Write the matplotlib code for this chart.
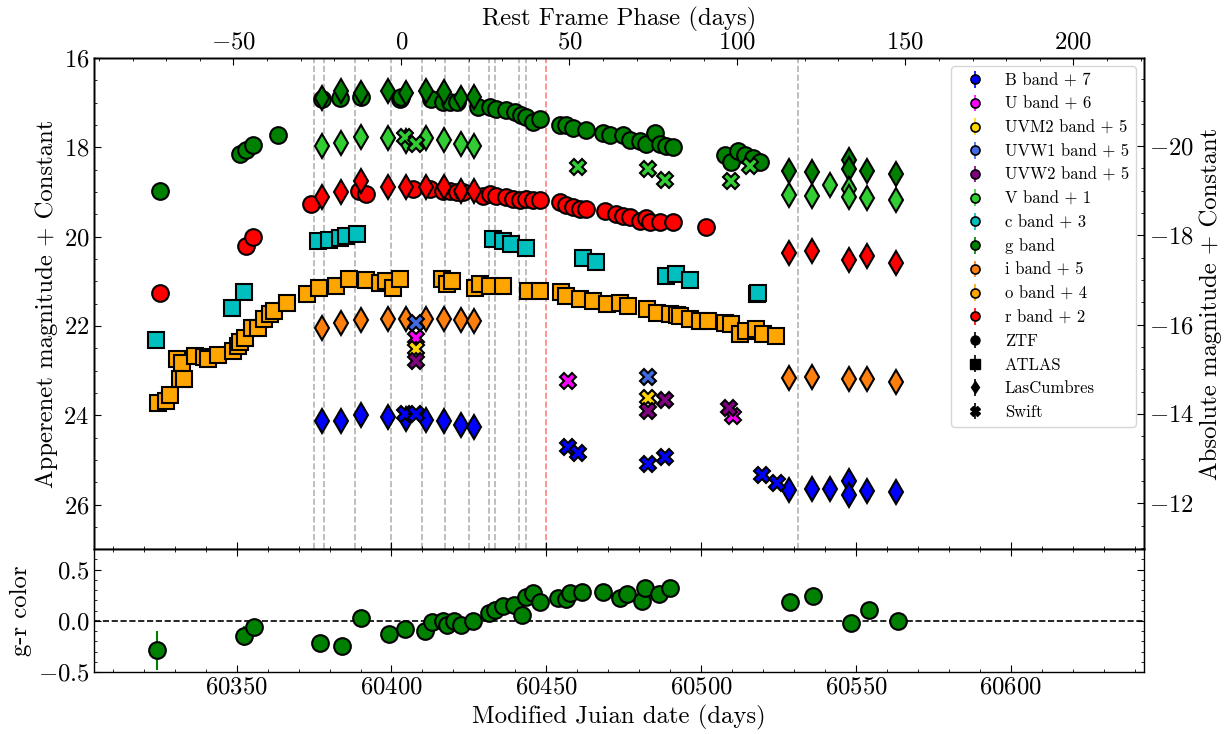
"""Multi-band light curve with g-r colour panel."""
import numpy as np
import matplotlib
matplotlib.use("Agg")
import matplotlib.pyplot as plt
from matplotlib.ticker import AutoMinorLocator, MultipleLocator

# ---------------------------------------------------------------- data
XLIM = (60304.0, 60643.0)
T0 = 60403.2          # phase zero (MJD)
Z = 0.085             # redshift used for rest-frame phase
DIST_MOD = 37.97      # apparent -> absolute

OFFSETS = {"B": 7, "U": 6, "UVM2": 5, "UVW1": 5, "UVW2": 5, "V": 1,
           "c": 3, "g": 0, "i": 5, "o": 4, "r": 2}
COLORS = {"B": "blue", "U": "magenta", "UVM2": "gold", "UVW1": "royalblue",
          "UVW2": "purple", "V": "limegreen", "c": "c", "g": "green",
          "i": "tab:orange", "o": "orange", "r": "red"}

# ZTF
ztf_g_mjd = [60325.2, 60351.0, 60353.1, 60355.3, 60363.4, 60377.5, 60383.3, 60390.3,
             60402.6, 60403.2, 60412.9, 60416.6, 60418.8, 60421.0, 60427.9, 60431.7,
             60433.9, 60437.1, 60439.8, 60441.9, 60443.6, 60445.7, 60447.9, 60454.3,
             60456.5, 60458.6, 60462.9, 60468.3, 60470.5, 60474.8, 60476.9, 60480.1,
             60482.3, 60485.0, 60486.6, 60488.8, 60490.9, 60507.6, 60509.7, 60511.9,
             60514.1, 60516.7, 60518.9]
ztf_g_mag = [18.97, 18.16, 18.07, 17.94, 17.73, 16.92, 16.89, 16.87,
             16.91, 16.87, 16.91, 16.98, 16.98, 16.98, 17.09, 17.09,
             17.15, 17.17, 17.22, 17.27, 17.32, 17.43, 17.36, 17.49,
             17.51, 17.57, 17.62, 17.67, 17.73, 17.73, 17.84, 17.87,
             17.92, 17.69, 17.92, 17.96, 17.99, 18.18, 18.34, 18.09,
             18.18, 18.25, 18.33]
ztf_r_mjd = [60325.2, 60353.1, 60355.3, 60374.1, 60389.5, 60391.9, 60406.9, 60412.3,
             60416.6, 60418.8, 60421.0, 60423.1, 60429.5, 60431.7, 60433.9, 60437.1,
             60439.2, 60441.4, 60443.6, 60445.7, 60447.9, 60454.3, 60456.5, 60458.6,
             60460.8, 60462.9, 60468.8, 60472.6, 60474.8, 60476.9, 60480.1, 60482.3,
             60483.4, 60486.6, 60490.9, 60501.7]
ztf_r_mag = [19.27, 18.22, 18.02, 17.27, 16.97, 17.04, 16.93, 16.93,
             16.97, 16.97, 17.00, 17.00, 17.08, 17.04, 17.08, 17.12,
             17.15, 17.19, 17.15, 17.19, 17.19, 17.23, 17.29, 17.34,
             17.38, 17.38, 17.42, 17.49, 17.53, 17.57, 17.64, 17.59,
             17.68, 17.68, 17.68, 17.79]

# ATLAS
atlas_c_mjd = [60324.1, 60348.5, 60352.3, 60376.3, 60379.8, 60383.3, 60385.4, 60388.7,
               60432.8, 60436.0, 60438.7, 60443.6, 60461.8, 60466.2, 60488.8, 60492.0,
               60496.3, 60518.0, 60518.3]
atlas_c_mag = [19.31, 18.60, 18.25, 17.10, 17.07, 17.03, 16.98, 16.94,
               17.05, 17.09, 17.16, 17.26, 17.49, 17.56, 17.88, 17.84,
               17.97, 18.29, 18.27]
atlas_o_mjd = [60324.6, 60327.3, 60328.4, 60330.7, 60331.6, 60332.2, 60333.0, 60336.4,
               60339.6, 60340.7, 60343.9, 60348.8, 60350.4, 60351.0, 60352.6, 60354.8,
               60356.9, 60358.7, 60360.9, 60361.9, 60366.3, 60372.8, 60376.6, 60382.0,
               60386.3, 60391.7, 60396.2, 60398.2, 60400.5, 60402.7, 60416.2, 60417.8,
               60419.4, 60427.0, 60428.6, 60431.8, 60436.1, 60444.1, 60447.9, 60454.9,
               60456.5, 60460.8, 60465.1, 60469.5, 60473.8, 60476.5, 60482.4, 60485.6,
               60489.9, 60492.1, 60493.1, 60496.3, 60499.5, 60502.2, 60507.6, 60509.7,
               60512.4, 60514.6, 60517.8, 60520.0, 60524.3]
atlas_o_mag = [19.72, 19.69, 19.54, 18.75, 19.20, 18.82, 19.18, 18.67,
               18.70, 18.73, 18.65, 18.56, 18.45, 18.37, 18.26, 18.04,
               18.04, 17.85, 17.74, 17.66, 17.48, 17.29, 17.15, 17.10,
               16.95, 16.97, 17.03, 17.00, 17.14, 16.95, 16.95, 17.06,
               16.99, 17.14, 17.06, 17.10, 17.10, 17.21, 17.21, 17.25,
               17.33, 17.40, 17.44, 17.51, 17.48, 17.55, 17.62, 17.70,
               17.74, 17.76, 17.78, 17.85, 17.89, 17.89, 17.93, 17.96,
               18.19, 18.11, 18.07, 18.19, 18.22]

# Las Cumbres
lco_early = [60377.7, 60383.8, 60390.3, 60399.0, 60404.6, 60411.3, 60416.9, 60422.3, 60426.6]
lco_g_mjd = lco_early + [60528.4, 60535.7, 60547.6, 60547.6, 60553.5, 60562.9]
lco_g_mag = [16.89, 16.74, 16.79, 16.74, 16.79, 16.74, 16.77, 16.89, 16.87,
             18.54, 18.55, 18.29, 18.49, 18.54, 18.59]
lco_V_mjd = lco_early + [60528.4, 60535.7, 60541.6, 60547.6, 60547.6, 60553.5, 60562.9]
lco_V_mag = [16.96, 16.90, 16.77, 16.79, 16.85, 16.79, 16.84, 16.92, 16.96,
             18.06, 18.08, 17.85, 17.93, 18.12, 18.14, 18.19]
lco_r_mjd = lco_early + [60528.4, 60535.7, 60547.6, 60553.5, 60562.9]
lco_r_mag = [17.12, 17.00, 16.76, 16.89, 16.89, 16.89, 16.90, 16.97, 16.97,
             18.37, 18.33, 18.52, 18.44, 18.59]
lco_i_mjd = lco_early + [60528.4, 60535.7, 60547.6, 60553.5, 60562.9]
lco_i_mag = [17.04, 16.93, 16.87, 16.85, 16.85, 16.85, 16.84, 16.87, 16.90,
             18.16, 18.14, 18.18, 18.20, 18.26]
lco_B_mjd = lco_early + [60528.4, 60535.7, 60541.6, 60547.6, 60547.6, 60553.5, 60562.9]
lco_B_mag = [17.13, 17.13, 17.00, 17.04, 17.09, 17.10, 17.12, 17.22, 17.27,
             18.67, 18.65, 18.65, 18.48, 18.78, 18.69, 18.71]

# Swift
swift_B_mjd = [60404.3, 60408.0, 60457.0, 60460.2, 60482.8, 60488.2, 60519.8, 60524.6]
swift_B_mag = [16.98, 16.98, 17.71, 17.85, 18.09, 17.94, 18.35, 18.52]
swift_U_mjd = [60408.0, 60457.0, 60510.3]
swift_U_mag = [16.26, 17.24, 18.02]
swift_UVM2_mjd = [60408.0, 60482.8]
swift_UVM2_mag = [17.52, 18.61]
swift_UVW1_mjd = [60408.0, 60482.8]
swift_UVW1_mag = [16.93, 18.14]
swift_UVW2_mjd = [60408.0, 60482.8, 60488.2, 60509.0]
swift_UVW2_mag = [17.79, 18.91, 18.65, 18.83]
swift_V_mjd = [60404.3, 60408.0, 60460.2, 60482.8, 60488.2, 60509.7, 60515.7]
swift_V_mag = [16.77, 16.92, 17.44, 17.48, 17.74, 17.76, 17.42]

# g-r colour
color_mjd = [60324.4, 60352.5, 60355.5, 60377.0, 60383.9, 60390.2, 60399.2, 60404.5,
             60410.9, 60413.0, 60416.7, 60417.8, 60420.1, 60422.4, 60426.2, 60431.4,
             60433.3, 60435.9, 60439.7, 60442.0, 60443.4, 60445.7, 60447.9, 60453.7,
             60456.3, 60457.7, 60461.5, 60468.4, 60473.9, 60475.9, 60480.8, 60481.9,
             60486.4, 60490.1, 60528.8, 60536.1, 60548.3, 60554.3, 60563.6]
color_val = [-0.29, -0.15, -0.06, -0.22, -0.25, 0.03, -0.13, -0.08,
             -0.10, -0.01, 0.00, -0.04, 0.00, -0.04, 0.00, 0.08,
             0.11, 0.14, 0.15, 0.06, 0.23, 0.27, 0.18, 0.22,
             0.21, 0.27, 0.28, 0.28, 0.22, 0.26, 0.19, 0.32,
             0.26, 0.32, 0.18, 0.24, -0.02, 0.11, 0.00]
color_err = [0.19, 0.10, 0.03, 0.03, 0.03, 0.03, 0.03, 0.03,
             0.03, 0.03, 0.03, 0.03, 0.03, 0.03, 0.03, 0.03,
             0.03, 0.03, 0.03, 0.03, 0.03, 0.03, 0.03, 0.03,
             0.03, 0.03, 0.03, 0.03, 0.03, 0.03, 0.03, 0.03,
             0.03, 0.03, 0.03, 0.03, 0.03, 0.03, 0.03]

# spectral epochs
spec_mjd = [60375.0, 60378.3, 60388.1, 60400.0, 60409.7, 60417.3, 60424.9,
            60431.4, 60433.5, 60441.2, 60443.3, 60531.2]
peak_mjd = 60449.8


def main() -> None:
    plt.rcParams.update({
        "font.family": ["cmr10", "DejaVu Serif"],
        "mathtext.fontset": "cm",
        "axes.formatter.use_mathtext": True,
        "font.size": 17.8,
        "axes.linewidth": 1.0,
        "xtick.direction": "in",
        "ytick.direction": "in",
        "xtick.major.size": 5,
        "ytick.major.size": 5,
        "xtick.minor.size": 2.5,
        "ytick.minor.size": 2.5,
    })

    fig = plt.figure(figsize=(12.32, 7.34), dpi=100)
    gs = fig.add_gridspec(2, 1, height_ratios=[4, 1], hspace=0,
                          left=0.0765, right=0.9285, top=0.921, bottom=0.0845)
    ax = fig.add_subplot(gs[0])
    axc = fig.add_subplot(gs[1], sharex=ax)

    for m in spec_mjd:
        ax.axvline(m, color="gray", ls="--", lw=1.2, alpha=0.6, zorder=0)
    ax.axvline(peak_mjd, color="red", ls="--", lw=1.2, alpha=0.5, zorder=0)

    kw = dict(ls="none", ms=12, mec="k", mew=1.5)
    sets = [
        ("o", "g", ztf_g_mjd, ztf_g_mag),
        ("o", "r", ztf_r_mjd, ztf_r_mag),
        ("s", "c", atlas_c_mjd, atlas_c_mag),
        ("s", "o", atlas_o_mjd, atlas_o_mag),
        ("d", "g", lco_g_mjd, lco_g_mag),
        ("d", "V", lco_V_mjd, lco_V_mag),
        ("d", "r", lco_r_mjd, lco_r_mag),
        ("d", "i", lco_i_mjd, lco_i_mag),
        ("d", "B", lco_B_mjd, lco_B_mag),
        ("X", "B", swift_B_mjd, swift_B_mag),
        ("X", "U", swift_U_mjd, swift_U_mag),
        ("X", "UVW1", swift_UVW1_mjd, swift_UVW1_mag),
        ("X", "UVM2", swift_UVM2_mjd, swift_UVM2_mag),
        ("X", "UVW2", swift_UVW2_mjd, swift_UVW2_mag),
        ("X", "V", swift_V_mjd, swift_V_mag),
    ]
    for marker, band, mjd, mag in sets:
        ax.plot(mjd, np.asarray(mag) + OFFSETS[band], marker=marker,
                mfc=COLORS[band], **kw)

    # legend handles
    for band in sorted(OFFSETS):
        off = OFFSETS[band]
        label = f"{band} band" + (f" + {off}" if off else "")
        ax.errorbar([np.nan], [np.nan], yerr=[0.1], fmt="o", ms=6.5,
                    mfc=COLORS[band], mec="k", mew=1.2, ecolor=COLORS[band],
                    elinewidth=1.2, label=label)
    for marker, name in [("o", "ZTF"), ("s", "ATLAS"), ("d", "LasCumbres"), ("X", "Swift")]:
        ax.errorbar([np.nan], [np.nan], yerr=[0.1], fmt=marker, ms=6.5,
                    color="k", ecolor="k", elinewidth=1.2, label=name)
    ax.legend(loc="upper right", fontsize=12, labelspacing=0.5)

    ax.set_xlim(*XLIM)
    ax.set_ylim(27, 16)
    ax.yaxis.set_major_locator(MultipleLocator(2))
    ax.yaxis.set_minor_locator(AutoMinorLocator(4))
    ax.xaxis.set_major_locator(MultipleLocator(50))
    ax.xaxis.set_minor_locator(AutoMinorLocator(5))
    ax.tick_params(which="both", bottom=True, top=False, left=True, right=False,
                   labelbottom=False)
    ax.set_ylabel("Apperenet magnitude + Constant")

    ax_abs = ax.twinx()
    ax_abs.set_ylim(27 - DIST_MOD, 16 - DIST_MOD)
    ax_abs.yaxis.set_major_locator(MultipleLocator(2))
    ax_abs.yaxis.set_minor_locator(AutoMinorLocator(4))
    ax_abs.tick_params(which="both", direction="in")
    ax_abs.set_ylabel("Absolute magnitude + Constant")

    ax_top = ax.twiny()
    ax_top.set_xlim((XLIM[0] - T0) / (1 + Z), (XLIM[1] - T0) / (1 + Z))
    ax_top.xaxis.set_major_locator(MultipleLocator(50))
    ax_top.xaxis.set_minor_locator(AutoMinorLocator(5))
    ax_top.tick_params(which="both", direction="in")
    ax_top.set_xlabel("Rest Frame Phase (days)")

    # colour panel
    axc.errorbar(color_mjd, color_val, yerr=color_err, fmt="o", ms=12,
                 mfc=COLORS["g"], mec="k", mew=1.5, ecolor=COLORS["g"],
                 elinewidth=1.5)
    axc.axhline(0, color="k", ls="--", lw=1.2, zorder=0)
    axc.set_ylim(-0.5, 0.7)
    axc.yaxis.set_major_locator(MultipleLocator(0.5))
    axc.yaxis.set_minor_locator(AutoMinorLocator(5))
    axc.tick_params(which="both", top=True, right=True)
    axc.set_xlabel("Modified Juian date (days)")
    axc.set_ylabel("g-r color")

    fig.savefig("out.png", dpi=100)


if __name__ == "__main__":
    main()
